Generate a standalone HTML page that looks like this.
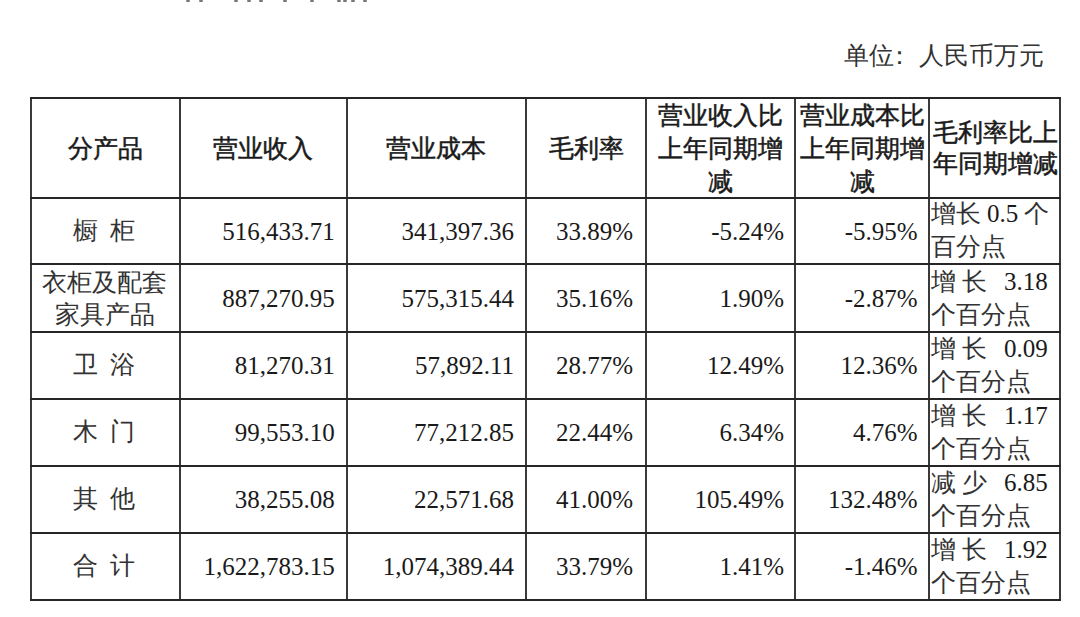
<!DOCTYPE html>
<html><head><meta charset="utf-8"><style>
html,body{margin:0;padding:0;background:#fff;width:1080px;height:617px;overflow:hidden;position:relative}
.l{position:absolute;background:#262626}
.v{background:#3a3a3a}
#w{position:absolute;left:0;top:0;width:1080px;height:617px}
.t,.h{position:absolute;white-space:pre;font-family:"Liberation Serif",serif;font-size:25px;line-height:30px;color:#1a1a1a}
.h{font-family:"Liberation Sans",sans-serif;font-weight:normal;-webkit-text-stroke:0.5px #1a1a1a}
.sp{display:inline-block;width:12px}
</style></head><body><div id="w">
<div class="l v" style="left:29.9px;top:96.7px;width:2px;height:504.1px"></div>
<div class="l v" style="left:179.1px;top:96.7px;width:2px;height:504.1px"></div>
<div class="l v" style="left:345.7px;top:96.7px;width:2px;height:504.1px"></div>
<div class="l v" style="left:525.1px;top:96.7px;width:2px;height:504.1px"></div>
<div class="l v" style="left:645.0px;top:96.7px;width:2px;height:504.1px"></div>
<div class="l v" style="left:794.1px;top:96.7px;width:2px;height:504.1px"></div>
<div class="l v" style="left:928.3px;top:96.7px;width:2px;height:504.1px"></div>
<div class="l v" style="left:1059.2px;top:96.7px;width:2px;height:504.1px"></div>
<div class="l" style="left:29.9px;top:96.7px;width:1031.3px;height:2px"></div>
<div class="l" style="left:29.9px;top:196.5px;width:1031.3px;height:2px"></div>
<div class="l" style="left:29.9px;top:263.3px;width:1031.3px;height:2px"></div>
<div class="l" style="left:29.9px;top:331.0px;width:1031.3px;height:2px"></div>
<div class="l" style="left:29.9px;top:397.6px;width:1031.3px;height:2px"></div>
<div class="l" style="left:29.9px;top:465.2px;width:1031.3px;height:2px"></div>
<div class="l" style="left:29.9px;top:531.6px;width:1031.3px;height:2px"></div>
<div class="l" style="left:29.9px;top:598.8px;width:1031.3px;height:2px"></div>
<div class="h" style="left:-194.5px;width:600px;text-align:center;top:132.6px;">分产品</div>
<div class="h" style="left:-36.6px;width:600px;text-align:center;top:132.6px;">营业收入</div>
<div class="h" style="left:136.4px;width:600px;text-align:center;top:132.6px;">营业成本</div>
<div class="h" style="left:286.0px;width:600px;text-align:center;top:132.6px;">毛利率</div>
<div class="h" style="left:420.5px;width:600px;text-align:center;top:99.6px;">营业收入比</div>
<div class="h" style="left:420.5px;width:600px;text-align:center;top:132.6px;">上年同期增</div>
<div class="h" style="left:420.5px;width:600px;text-align:center;top:165.6px;">减</div>
<div class="h" style="left:562.2px;width:600px;text-align:center;top:99.6px;">营业成本比</div>
<div class="h" style="left:562.2px;width:600px;text-align:center;top:132.6px;">上年同期增</div>
<div class="h" style="left:562.2px;width:600px;text-align:center;top:165.6px;">减</div>
<div class="h" style="left:695.2px;width:600px;text-align:center;top:117.1px;">毛利率比上</div>
<div class="h" style="left:695.2px;width:600px;text-align:center;top:148.1px;">年同期增减</div>
<div class="t" style="left:844.0px;top:40.8px;color:#333">单位</div>
<div class="t" style="left:886.5px;top:40.8px;color:#333">：</div>
<div class="t" style="left:919.0px;top:40.8px;color:#333">人民币万元</div>
<div class="t" style="left:-196.0px;width:600px;text-align:center;top:215.9px;color:#333">橱<span class="sp"></span>柜</div>
<div class="t" style="left:-265.3px;width:600px;text-align:right;top:217.0px;">516,433.71</div>
<div class="t" style="left:-85.9px;width:600px;text-align:right;top:217.0px;">341,397.36</div>
<div class="t" style="left:33.0px;width:600px;text-align:right;top:217.0px;">33.89%</div>
<div class="t" style="left:184.1px;width:600px;text-align:right;top:217.0px;">-5.24%</div>
<div class="t" style="left:317.6px;width:600px;text-align:right;top:217.0px;">-5.95%</div>
<div class="t" style="left:931.0px;top:199.4px;color:#333">增</div>
<div class="t" style="left:956.0px;top:199.4px;color:#333">长</div>
<div class="t" style="left:987.0px;top:199.4px;">0.5</div>
<div class="t" style="left:1024.0px;top:199.4px;color:#333">个</div>
<div class="t" style="left:931.0px;top:232.4px;color:#333">百</div>
<div class="t" style="left:956.0px;top:232.4px;color:#333">分</div>
<div class="t" style="left:981.0px;top:232.4px;color:#333">点</div>
<div class="t" style="left:-195.5px;width:600px;text-align:center;top:267.6px;color:#333">衣柜及配套</div>
<div class="t" style="left:-195.5px;width:600px;text-align:center;top:299.6px;color:#333">家具产品</div>
<div class="t" style="left:-265.3px;width:600px;text-align:right;top:284.0px;">887,270.95</div>
<div class="t" style="left:-85.9px;width:600px;text-align:right;top:284.0px;">575,315.44</div>
<div class="t" style="left:33.0px;width:600px;text-align:right;top:284.0px;">35.16%</div>
<div class="t" style="left:184.1px;width:600px;text-align:right;top:284.0px;">1.90%</div>
<div class="t" style="left:317.6px;width:600px;text-align:right;top:284.0px;">-2.87%</div>
<div class="t" style="left:931.0px;top:266.6px;color:#333">增</div>
<div class="t" style="left:962.0px;top:266.6px;color:#333">长</div>
<div class="t" style="left:1004.0px;top:266.6px;">3.18</div>
<div class="t" style="left:931.0px;top:299.6px;color:#333">个</div>
<div class="t" style="left:956.0px;top:299.6px;color:#333">百</div>
<div class="t" style="left:981.0px;top:299.6px;color:#333">分</div>
<div class="t" style="left:1006.0px;top:299.6px;color:#333">点</div>
<div class="t" style="left:-196.0px;width:600px;text-align:center;top:350.3px;color:#333">卫<span class="sp"></span>浴</div>
<div class="t" style="left:-265.3px;width:600px;text-align:right;top:350.9px;">81,270.31</div>
<div class="t" style="left:-85.9px;width:600px;text-align:right;top:350.9px;">57,892.11</div>
<div class="t" style="left:33.0px;width:600px;text-align:right;top:350.9px;">28.77%</div>
<div class="t" style="left:184.1px;width:600px;text-align:right;top:350.9px;">12.49%</div>
<div class="t" style="left:317.6px;width:600px;text-align:right;top:350.9px;">12.36%</div>
<div class="t" style="left:931.0px;top:333.8px;color:#333">增</div>
<div class="t" style="left:962.0px;top:333.8px;color:#333">长</div>
<div class="t" style="left:1004.0px;top:333.8px;">0.09</div>
<div class="t" style="left:931.0px;top:366.8px;color:#333">个</div>
<div class="t" style="left:956.0px;top:366.8px;color:#333">百</div>
<div class="t" style="left:981.0px;top:366.8px;color:#333">分</div>
<div class="t" style="left:1006.0px;top:366.8px;color:#333">点</div>
<div class="t" style="left:-196.0px;width:600px;text-align:center;top:417.4px;color:#333">木<span class="sp"></span>门</div>
<div class="t" style="left:-265.3px;width:600px;text-align:right;top:417.9px;">99,553.10</div>
<div class="t" style="left:-85.9px;width:600px;text-align:right;top:417.9px;">77,212.85</div>
<div class="t" style="left:33.0px;width:600px;text-align:right;top:417.9px;">22.44%</div>
<div class="t" style="left:184.1px;width:600px;text-align:right;top:417.9px;">6.34%</div>
<div class="t" style="left:317.6px;width:600px;text-align:right;top:417.9px;">4.76%</div>
<div class="t" style="left:931.0px;top:400.9px;color:#333">增</div>
<div class="t" style="left:962.0px;top:400.9px;color:#333">长</div>
<div class="t" style="left:1004.0px;top:400.9px;">1.17</div>
<div class="t" style="left:931.0px;top:433.9px;color:#333">个</div>
<div class="t" style="left:956.0px;top:433.9px;color:#333">百</div>
<div class="t" style="left:981.0px;top:433.9px;color:#333">分</div>
<div class="t" style="left:1006.0px;top:433.9px;color:#333">点</div>
<div class="t" style="left:-196.0px;width:600px;text-align:center;top:484.4px;color:#333">其<span class="sp"></span>他</div>
<div class="t" style="left:-265.3px;width:600px;text-align:right;top:484.8px;">38,255.08</div>
<div class="t" style="left:-85.9px;width:600px;text-align:right;top:484.8px;">22,571.68</div>
<div class="t" style="left:33.0px;width:600px;text-align:right;top:484.8px;">41.00%</div>
<div class="t" style="left:184.1px;width:600px;text-align:right;top:484.8px;">105.49%</div>
<div class="t" style="left:317.6px;width:600px;text-align:right;top:484.8px;">132.48%</div>
<div class="t" style="left:931.0px;top:467.9px;color:#333">减</div>
<div class="t" style="left:962.0px;top:467.9px;color:#333">少</div>
<div class="t" style="left:1004.0px;top:467.9px;">6.85</div>
<div class="t" style="left:931.0px;top:500.9px;color:#333">个</div>
<div class="t" style="left:956.0px;top:500.9px;color:#333">百</div>
<div class="t" style="left:981.0px;top:500.9px;color:#333">分</div>
<div class="t" style="left:1006.0px;top:500.9px;color:#333">点</div>
<div class="t" style="left:-196.0px;width:600px;text-align:center;top:551.2px;color:#333">合<span class="sp"></span>计</div>
<div class="t" style="left:-265.3px;width:600px;text-align:right;top:552.3px;">1,622,783.15</div>
<div class="t" style="left:-85.9px;width:600px;text-align:right;top:552.3px;">1,074,389.44</div>
<div class="t" style="left:33.0px;width:600px;text-align:right;top:552.3px;">33.79%</div>
<div class="t" style="left:184.1px;width:600px;text-align:right;top:552.3px;">1.41%</div>
<div class="t" style="left:317.6px;width:600px;text-align:right;top:552.3px;">-1.46%</div>
<div class="t" style="left:931.0px;top:534.7px;color:#333">增</div>
<div class="t" style="left:962.0px;top:534.7px;color:#333">长</div>
<div class="t" style="left:1004.0px;top:534.7px;">1.92</div>
<div class="t" style="left:931.0px;top:567.7px;color:#333">个</div>
<div class="t" style="left:956.0px;top:567.7px;color:#333">百</div>
<div class="t" style="left:981.0px;top:567.7px;color:#333">分</div>
<div class="t" style="left:1006.0px;top:567.7px;color:#333">点</div>
<div style="position:absolute;left:186px;top:0;width:4px;height:2px;background:#777;border-radius:1px"></div>
<div style="position:absolute;left:199px;top:0;width:4px;height:2px;background:#777;border-radius:1px"></div>
<div style="position:absolute;left:234px;top:0;width:4px;height:2px;background:#777;border-radius:1px"></div>
<div style="position:absolute;left:247px;top:0;width:4px;height:2px;background:#777;border-radius:1px"></div>
<div style="position:absolute;left:259px;top:0;width:4px;height:2px;background:#777;border-radius:1px"></div>
<div style="position:absolute;left:283px;top:0;width:4px;height:2px;background:#777;border-radius:1px"></div>
<div style="position:absolute;left:310px;top:0;width:4px;height:2px;background:#777;border-radius:1px"></div>
<div style="position:absolute;left:337px;top:0;width:4px;height:2px;background:#777;border-radius:1px"></div>
<div style="position:absolute;left:343px;top:0;width:4px;height:2px;background:#777;border-radius:1px"></div>
<div style="position:absolute;left:351px;top:0;width:4px;height:2px;background:#777;border-radius:1px"></div>
<div style="position:absolute;left:363px;top:0;width:4px;height:2px;background:#777;border-radius:1px"></div>
</div></body></html>
